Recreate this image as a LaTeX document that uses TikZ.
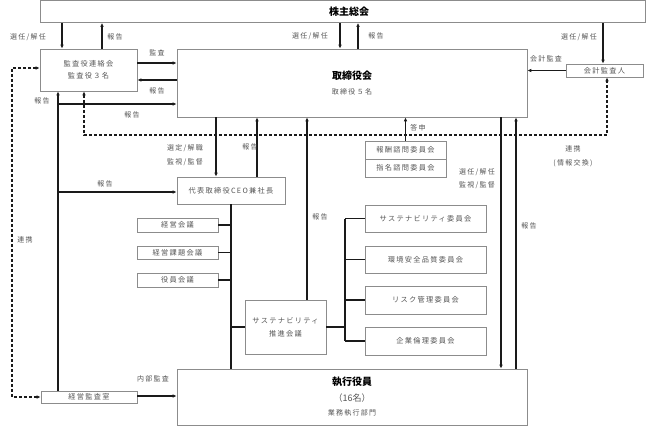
\documentclass[tikz,border=0pt]{standalone}
\usepackage{fontspec}
\setmainfont{Noto Sans CJK JP}
\newfontfamily\jsp[LetterSpace=18]{Noto Sans CJK JP}
\usetikzlibrary{arrows.meta}
\definecolor{boxgray}{HTML}{8C8C8C}
\definecolor{labgray}{HTML}{555555}
\definecolor{linec}{HTML}{1A1A1A}
\begin{document}
\begin{tikzpicture}[x=1pt,y=-1pt,
 box/.style={draw=boxgray, line width=0.7pt, fill=white, inner sep=0pt, font=\jsp\fontsize{7.2}{9}\selectfont, text=labgray, align=center},
 lab/.style={inner sep=0pt, font=\jsp\fontsize{7}{9}\selectfont, text=labgray, align=center},
 ttl/.style={font=\bfseries\fontsize{10}{12}\selectfont, text=black},
 ln/.style={line width=1.1pt, draw=linec},
 arr/.style={ln, -{Latex[length=4pt,width=3.6pt]}},
 dsh/.style={ln, dash pattern=on 3pt off 2pt, {Latex[length=4pt,width=3.6pt]}-{Latex[length=4pt,width=3.6pt]}},
]
\useasboundingbox (0,0) rectangle (647,426);

% boxes
\node[box, minimum width=605pt, minimum height=22pt] (kabu) at (342.5,11.5) {};
\node[ttl] (kabut) at (349,11.5) {株主総会};
\node[box, minimum width=97pt, minimum height=42pt] (kansa) at (88.5,70) {監査役連絡会\\[3pt]監査役３名};
\node[box, minimum width=350pt, minimum height=68pt] (tori) at (352,83) {};
\node[ttl] (torit) at (352,76) {取締役会};
\node[lab] (torin) at (352,92) {取締役５名};
\node[box, minimum width=77pt, minimum height=13pt] (kaikei) at (604.5,70.5) {会計監査人};
\node[box, minimum width=108pt, minimum height=27pt] (ceo) at (231,190.5) {代表取締役CEO兼社長};
\node[box, minimum width=81pt, minimum height=14pt] (keiei) at (177.5,225) {経営会議};
\node[box, minimum width=81pt, minimum height=13pt] (kadai) at (177.5,252.5) {経営課題会議};
\node[box, minimum width=81pt, minimum height=14pt] (yakuin) at (177.5,280) {役員会議};
\node[box, minimum width=81pt, minimum height=54pt] (suishin) at (285.5,327) {サステナビリティ\\[4pt]推進会議};
\node[box, minimum width=121pt, minimum height=27pt] (sus) at (425.5,218.5) {サステナビリティ委員会};
\node[box, minimum width=121pt, minimum height=27pt] (kankyo) at (425.5,259.5) {環境安全品質委員会};
\node[box, minimum width=121pt, minimum height=28pt] (risk) at (425.5,300) {リスク管理委員会};
\node[box, minimum width=121pt, minimum height=28pt] (rinri) at (425.5,341) {企業倫理委員会};
\node[box, minimum width=81pt, minimum height=18pt] (hoshu) at (405.5,150) {報酬諮問委員会};
\node[box, minimum width=81pt, minimum height=18pt] (shimei) at (405.5,168) {指名諮問委員会};
\node[box, minimum width=350pt, minimum height=56pt] (shikko) at (352,397) {};
\node[ttl] (shikkot) at (352,382) {執行役員};
\node[font=\fontsize{9}{11}\selectfont, text=labgray, inner sep=0pt] (shikkon) at (352,398) {（16名）};
\node[lab] (shikkob) at (352,413) {業務執行部門};
\node[box, minimum width=96pt, minimum height=12pt] (kshitsu) at (89,397) {経営監査室};

% helper coordinates
\coordinate (cA) at (62,0);
\coordinate (cB) at (102,0);
\coordinate (cC) at (340,0);
\coordinate (cD) at (358,0);
\coordinate (cE) at (603,0);
\coordinate (cI) at (216,0);
\coordinate (cJ) at (257,0);
\coordinate (cK) at (307,0);
\coordinate (cL) at (501,0);
\coordinate (cM) at (516,0);
\coordinate (cT) at (345,0);
\coordinate (yA) at (0,63);
\coordinate (yB) at (0,80);
\coordinate (j1) at (58,104);
\coordinate (j2) at (58,192);
\coordinate (d1) at (12,68);
\coordinate (d2) at (12,397);
\coordinate (d3) at (84,135);
\coordinate (d4) at (607,135);
\coordinate (yK) at (0,396);

% top connectors
\draw[arr] (kabu.south -| cA) -- (kansa.north -| cA);
\draw[arr] (kansa.north -| cB) -- (kabu.south -| cB);
\draw[arr] (kabu.south -| cC) -- (tori.north -| cC);
\draw[arr] (tori.north -| cD) -- (kabu.south -| cD);
\draw[arr] (kabu.south -| cE) -- (kaikei.north -| cE);
\draw[arr] (kansa.east |- yA) -- (tori.west |- yA);
\draw[arr] (tori.west |- yB) -- (kansa.east |- yB);
\draw[arr] (kaikei.west) -- (kaikei.west -| tori.east);

% left audit line
\draw[arr] (kshitsu.north -| j1) -- (kansa.south -| j1);
\draw[arr] (j1) -- (j1 -| tori.west);
\draw[arr] (j2) -- (j2 -| ceo.west);
\draw[arr] (kshitsu.east |- yK) -- (shikko.west |- yK);

% dashed
\draw[dsh] (kansa.west |- d1) -- (d1) -- (d2) -- (kshitsu.west |- d2);
\draw[dsh] (kansa.south -| d3) -- (d3) -- (d4) -- (kaikei.south -| d4);

% board - ceo
\draw[arr] (tori.south -| cI) -- (ceo.north -| cI);
\draw[arr] (ceo.north -| cJ) -- (tori.south -| cJ);
\draw[arr] (suishin.north -| cK) -- (tori.south -| cK);
\draw[arr] (hoshu.north) -- (hoshu.north |- tori.south);
\draw[arr] (tori.south -| cL) -- (shikko.north -| cL);
\draw[arr] (shikko.north -| cM) -- (tori.south -| cM);

% ceo trunk
\draw[ln] (ceo.south) -- (ceo.south |- shikko.north);
\draw[ln] (keiei.east) -- (keiei.east -| ceo.south);
\draw[ln] (kadai.east) -- (kadai.east -| ceo.south);
\draw[ln] (yakuin.east) -- (yakuin.east -| ceo.south);
\draw[ln] (suishin.west) -- (suishin.west -| ceo.south);

% committee tree
\draw[ln] (sus.west -| cT) -- (rinri.west -| cT);
\draw[ln] (sus.west) -- (sus.west -| cT);
\draw[ln] (kankyo.west) -- (kankyo.west -| cT);
\draw[ln] (risk.west) -- (risk.west -| cT);
\draw[ln] (rinri.west) -- (rinri.west -| cT);
\draw[ln] (suishin.east) -- (suishin.east -| cT);

% labels
\node[lab] (l1) at (28,37) {選任/解任};
\node[lab] (l2) at (115,37) {報告};
\node[lab] (l3) at (310,36) {選任/解任};
\node[lab] (l4) at (376,36) {報告};
\node[lab] (l5) at (579,37) {選任/解任};
\node[lab] (l6) at (157,53) {監査};
\node[lab] (l7) at (157,91) {報告};
\node[lab] (l8) at (546,59) {会計監査};
\node[lab] (l9) at (42,101) {報告};
\node[lab] (l10) at (132,115) {報告};
\node[lab] (l11) at (185,148) {選定/解職};
\node[lab] (l12) at (185,162) {監視/監督};
\node[lab] (l13) at (250,147) {報告};
\node[lab] (l14) at (418,128) {答申};
\node[lab] (l15) at (573,149) {連携};
\node[lab] (l16) at (573,163) {(情報交換)};
\node[lab] (l17) at (477,172) {選任/解任};
\node[lab] (l18) at (477,185) {監視/監督};
\node[lab] (l19) at (105,184) {報告};
\node[lab] (l20) at (25,240) {連携};
\node[lab] (l21) at (320,217) {報告};
\node[lab] (l22) at (529,226) {報告};
\node[lab] (l23) at (153,379) {内部監査};
\end{tikzpicture}
\end{document}
